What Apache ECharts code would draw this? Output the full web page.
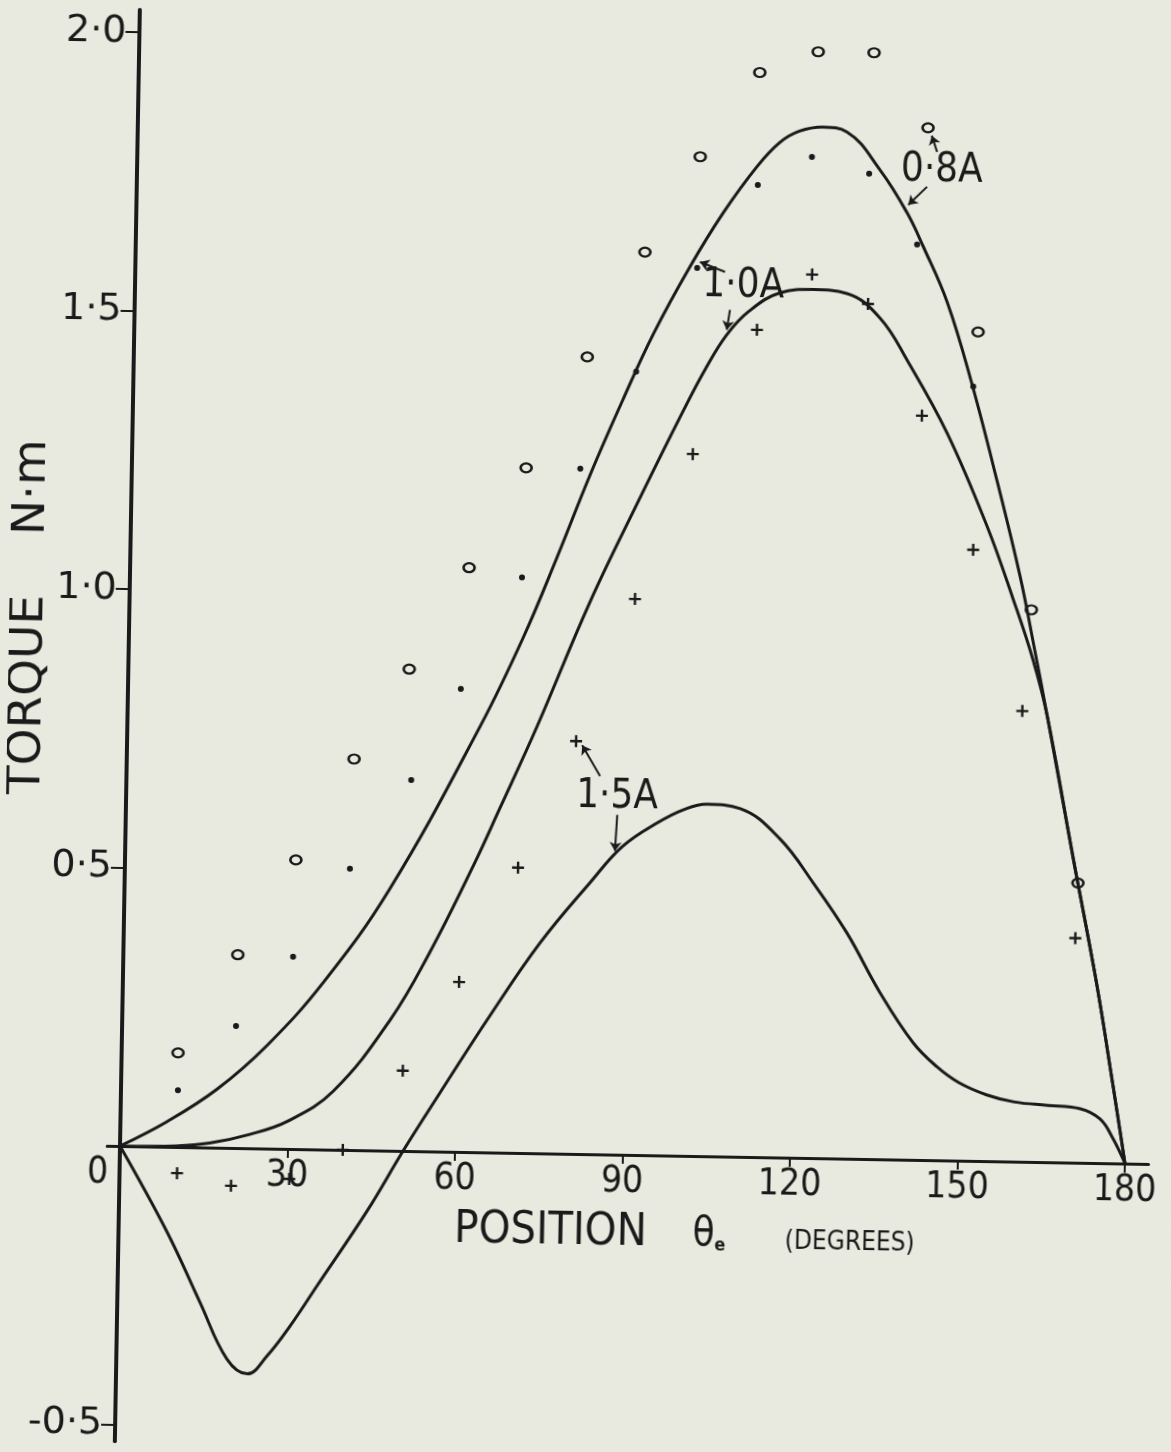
<!DOCTYPE html>
<html><head><meta charset="utf-8">
<script src="https://cdn.jsdelivr.net/npm/echarts/dist/echarts.min.js"></script>
<style>
html,body{margin:0;padding:0;background:#e8eadf;overflow:hidden;}
#chart{width:1171px;height:1452px;transform:rotate(1deg);transform-origin:120px 1146px;}
</style></head><body><div id="chart"></div>
<script>
// ---- axis ticks ----
const xTicks = [0, 30, 60, 90, 120, 150, 180];
const yTicks = [-0.5, 0.5, 1.0, 1.5, 2.0];
const yTickLabels = ['-0·5', '0·5', '1·0', '1·5', '2·0'];

// ---- fitted curves (position deg, torque N·m) ----
const c08X = [0, 8.3, 17.2, 26, 35.9, 47.5, 63.2, 70.6, 76.4, 82.1, 87.7, 93, 99.3, 105.1, 111.0, 115.0, 118.5, 122.7, 127.0, 133.1, 138.0, 141.0, 145.5, 150.0, 155.0, 159.4, 162.0, 164.7, 169.8, 174.4, 177.6, 180];
const c08Y = [0, 0.045, 0.105, 0.185, 0.300, 0.470, 0.765, 0.925, 1.070, 1.220, 1.355, 1.475, 1.596, 1.694, 1.778, 1.822, 1.843, 1.851, 1.843, 1.775, 1.700, 1.640, 1.540, 1.400, 1.220, 1.050, 0.930, 0.800, 0.545, 0.320, 0.140, 0];
const c10X = [0, 10, 16, 23.2, 30, 38.0, 48.0, 55, 62.2, 67.0, 73.4, 82.4, 91.1, 98.4, 102.5, 106.1, 110, 115.5, 121.4, 127.5, 133.5, 138.5, 145.9, 153.3, 158.2, 162.0, 164.7, 169.8, 174.4, 177.6, 180];
const c10Y = [0, 0.002, 0.008, 0.025, 0.050, 0.105, 0.235, 0.360, 0.510, 0.619, 0.767, 0.990, 1.180, 1.334, 1.415, 1.475, 1.518, 1.552, 1.559, 1.553, 1.510, 1.435, 1.305, 1.140, 1.010, 0.900, 0.800, 0.545, 0.320, 0.140, 0];
const c15X = [0, 8.7, 14.8, 19.8, 23.5, 27.0, 31.0, 35.7, 44.5, 50.7, 57.1, 65.8, 74.6, 83.3, 89.1, 95.2, 100, 104.0, 110.0, 117.2, 123.3, 129.5, 135.6, 141.7, 146, 150, 155, 160, 166, 171.8, 175.4, 177.8, 180];
const c15Y = [0, -0.153, -0.278, -0.379, -0.405, -0.372, -0.318, -0.245, -0.108, 0.0, 0.105, 0.245, 0.378, 0.487, 0.554, 0.597, 0.622, 0.632, 0.625, 0.572, 0.494, 0.405, 0.299, 0.210, 0.168, 0.140, 0.119, 0.107, 0.102, 0.097, 0.079, 0.044, 0];

// ---- measured points ----
const circX = [10.1, 20.5, 30.6, 40.7, 50.3, 60.7, 70.6, 81.2, 91.2, 100.8, 111.2, 121.6, 131.6, 141.5, 151.1, 161.5, 170.7];
const circY = [0.169, 0.347, 0.519, 0.702, 0.865, 1.049, 1.230, 1.431, 1.621, 1.794, 1.947, 1.986, 1.986, 1.853, 1.488, 0.991, 0.502];
const dotX = [10.2, 20.4, 30.4, 40.3, 51.0, 59.6, 70.2, 80.3, 90.0, 100.6, 111.2, 120.8, 131.1, 139.9, 150.4];
const dotY = [0.102, 0.219, 0.345, 0.505, 0.666, 0.831, 1.033, 1.230, 1.406, 1.594, 1.745, 1.797, 1.769, 1.643, 1.390];
const plusX = [10.3, 20.0, 30.4, 39.9, 50.4, 60.2, 70.4, 80.4, 90.5, 100.4, 111.5, 121.2, 131.3, 141.3, 150.9, 160.2, 170.4];
const plusY = [-0.047, -0.068, -0.054, 0.0, 0.144, 0.305, 0.512, 0.741, 0.998, 1.260, 1.485, 1.586, 1.535, 1.336, 1.097, 0.809, 0.403];

// ---- curve labels and pointer arrows ----
const annText = ['0·8A', '1·0A', '1·5A'];
const annX = [144.1, 108.9, 87.9];
const annY = [1.776, 1.563, 0.642];
const arrowFromX = [141.5, 106.6, 88.0];
const arrowFromY = [1.747, 1.520, 0.610];
const arrowToX = [138.2, 106.1, 87.7];
const arrowToY = [1.714, 1.484, 0.545];
const hookFromX = [143.2, 105.6, 84.8];
const hookFromY = [1.810, 1.588, 0.679];
const hookToX = [142.2, 101.1, 81.5];
const hookToY = [1.839, 1.605, 0.734];

const zip = (a, b) => a.map((v, i) => [v, b[i]]);
const INK = '#1a1a1a';
const FONT = "'DejaVu Sans Condensed','DejaVu Sans',sans-serif";
const FONTW = "'DejaVu Sans',sans-serif";

const chart = echarts.init(document.getElementById('chart'), null, {renderer: 'canvas'});
const lineSeries = (name, xs, ys) => ({
  name, type: 'line', data: zip(xs, ys), smooth: 0.4,
  symbol: 'none', lineStyle: {color: INK, width: 3}, silent: true, z: 3
});
const arrows = [];
for (let i = 0; i < annText.length; i++) {
  arrows.push([{coord: [arrowFromX[i], arrowFromY[i]]}, {coord: [arrowToX[i], arrowToY[i]]}]);
  arrows.push([{coord: [hookFromX[i], hookFromY[i]], lineStyle: {curveness: 0.45}}, {coord: [hookToX[i], hookToY[i]]}]);
}

chart.setOption({
  animation: false,
  backgroundColor: '#e8eadf',
  grid: {left: 107.16, right: 22.4, top: 9.7, bottom: 10.8, containLabel: false, outerBoundsMode: 'none'},
  xAxis: {
    type: 'value', min: -2.3, max: 184.2, position: 'bottom', offset: -295.2,
    name: '{p|POSITION}{t|    θ}{e|e}{d|        (DEGREES)}',
    nameLocation: 'middle', nameGap: 56, nameMoveOverlap: false,
    nameTextStyle: {
      padding: [0, 0, 0, 116],
      rich: {
        p: {fontSize: 45, fontFamily: FONT, color: INK},
        t: {fontSize: 40, fontFamily: FONT, color: INK},
        e: {fontSize: 18, fontFamily: FONT, color: INK, fontWeight: 'bold', padding: [22, 0, 0, 0]},
        d: {fontSize: 26, fontFamily: FONT, color: INK, padding: [12, 0, 0, 0]}
      }
    },
    axisLine: {onZero: false, lineStyle: {color: INK, width: 3}},
    axisTick: {show: true, customValues: xTicks.slice(1), length: 9, lineStyle: {color: INK, width: 2}},
    axisLabel: {
      customValues: xTicks, margin: 9, fontSize: 37, fontFamily: FONT, color: INK,
      formatter: v => v === 0 ? '{z|0}' : String(v),
      rich: {z: {fontSize: 37, fontFamily: FONT, color: INK, padding: [0, 44, 0, 0]}}
    },
    splitLine: {show: false}
  },
  yAxis: {
    type: 'value', min: -0.53, max: 2.04, position: 'left', offset: -12.84,
    name: 'TORQUE    N·m', nameLocation: 'middle', nameGap: 76, nameMoveOverlap: false,
    nameTextStyle: {fontSize: 47, fontFamily: FONTW, color: INK, padding: [0, 0, 0, 214]},
    axisLine: {onZero: false, lineStyle: {color: INK, width: 4}},
    axisTick: {show: true, customValues: yTicks, length: 14, lineStyle: {color: INK, width: 2}},
    axisLabel: {
      customValues: yTicks, margin: 13, fontSize: 38, fontFamily: FONTW, color: INK,
      formatter: v => yTickLabels[yTicks.indexOf(v)] ?? ''
    },
    splitLine: {show: false}
  },
  series: [
    lineSeries('0·8A curve', c08X, c08Y),
    lineSeries('1·0A curve', c10X, c10Y),
    lineSeries('1·5A curve', c15X, c15Y),
    {name: '0·8A', type: 'scatter', data: zip(circX, circY), symbol: 'circle', symbolSize: [11, 9],
     itemStyle: {color: 'rgba(0,0,0,0)', borderColor: INK, borderWidth: 2.4, opacity: 1}, silent: true, z: 4},
    {name: '1·0A', type: 'scatter', data: zip(dotX, dotY), symbol: 'circle', symbolSize: 6,
     itemStyle: {color: INK, opacity: 1}, silent: true, z: 4},
    {name: '1·5A', type: 'scatter', data: zip(plusX, plusY), symbol: 'path://M4,0H6V4H10V6H6V10H4V6H0V4H4Z', symbolSize: 12,
     itemStyle: {color: INK, opacity: 1}, silent: true, z: 4},
    {name: 'labels', type: 'scatter', data: zip(annX, annY), symbolSize: 0, silent: true, z: 5,
     itemStyle: {opacity: 1},
     label: {show: true, position: [0, 0], align: 'center', verticalAlign: 'middle', formatter: p => annText[p.dataIndex],
       fontSize: 40, fontFamily: FONT, color: INK, textBorderWidth: 0},
     markLine: {silent: true, symbol: ['none', 'arrow'], symbolSize: 9, animation: false,
       lineStyle: {color: INK, width: 2, type: 'solid', opacity: 1}, label: {show: false}, data: arrows}}
  ]
});
</script></body></html>
